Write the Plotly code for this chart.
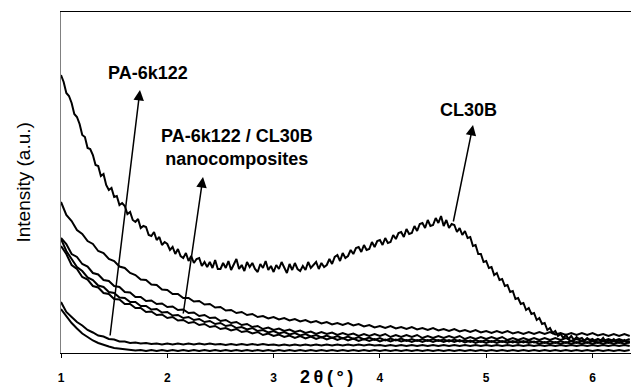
import plotly.graph_objects as go

# 2-theta positions (degrees), fine scan used for the CL30B pattern
theta_cl = [1.000, 1.025, 1.050, 1.075, 1.100, 1.125, 1.150, 1.175, 1.200, 1.225,
            1.250, 1.275, 1.300, 1.325, 1.350, 1.375, 1.400, 1.425, 1.450, 1.475,
            1.500, 1.525, 1.550, 1.575, 1.600, 1.625, 1.650, 1.675, 1.700, 1.725,
            1.750, 1.775, 1.800, 1.825, 1.850, 1.875, 1.900, 1.925, 1.950, 1.975,
            2.000, 2.025, 2.050, 2.075, 2.100, 2.125, 2.150, 2.175, 2.200, 2.225,
            2.250, 2.275, 2.300, 2.325, 2.350, 2.375, 2.400, 2.425, 2.450, 2.475,
            2.500, 2.525, 2.550, 2.575, 2.600, 2.625, 2.650, 2.675, 2.700, 2.725,
            2.750, 2.775, 2.800, 2.825, 2.850, 2.875, 2.900, 2.925, 2.950, 2.975,
            3.000, 3.025, 3.050, 3.075, 3.100, 3.125, 3.150, 3.175, 3.200, 3.225,
            3.250, 3.275, 3.300, 3.325, 3.350, 3.375, 3.400, 3.425, 3.450, 3.475,
            3.500, 3.525, 3.550, 3.575, 3.600, 3.625, 3.650, 3.675, 3.700, 3.725,
            3.750, 3.775, 3.800, 3.825, 3.850, 3.875, 3.900, 3.925, 3.950, 3.975,
            4.000, 4.025, 4.050, 4.075, 4.100, 4.125, 4.150, 4.175, 4.200, 4.225,
            4.250, 4.275, 4.300, 4.325, 4.350, 4.375, 4.400, 4.425, 4.450, 4.475,
            4.500, 4.525, 4.550, 4.575, 4.600, 4.625, 4.650, 4.675, 4.700, 4.725,
            4.750, 4.775, 4.800, 4.825, 4.850, 4.875, 4.900, 4.925, 4.950, 4.975,
            5.000, 5.025, 5.050, 5.075, 5.100, 5.125, 5.150, 5.175, 5.200, 5.225,
            5.250, 5.275, 5.300, 5.325, 5.350, 5.375, 5.400, 5.425, 5.450, 5.475,
            5.500, 5.525, 5.550, 5.575, 5.600, 5.625, 5.650, 5.675, 5.700, 5.725,
            5.750, 5.775, 5.800, 5.825, 5.850, 5.875, 5.900, 5.925, 5.950, 5.975,
            6.000, 6.025, 6.050, 6.075, 6.100, 6.125, 6.150, 6.175, 6.200, 6.225,
            6.250, 6.275, 6.300, 6.325, 6.350]

# 2-theta positions (degrees) for the PA-6k122 and nanocomposite patterns
theta = [1.00, 1.05, 1.10, 1.15, 1.20, 1.25, 1.30, 1.35, 1.40, 1.45,
         1.50, 1.55, 1.60, 1.65, 1.70, 1.75, 1.80, 1.85, 1.90, 1.95,
         2.00, 2.05, 2.10, 2.15, 2.20, 2.25, 2.30, 2.35, 2.40, 2.45,
         2.50, 2.55, 2.60, 2.65, 2.70, 2.75, 2.80, 2.85, 2.90, 2.95,
         3.00, 3.05, 3.10, 3.15, 3.20, 3.25, 3.30, 3.35, 3.40, 3.45,
         3.50, 3.55, 3.60, 3.65, 3.70, 3.75, 3.80, 3.85, 3.90, 3.95,
         4.00, 4.05, 4.10, 4.15, 4.20, 4.25, 4.30, 4.35, 4.40, 4.45,
         4.50, 4.55, 4.60, 4.65, 4.70, 4.75, 4.80, 4.85, 4.90, 4.95,
         5.00, 5.05, 5.10, 5.15, 5.20, 5.25, 5.30, 5.35, 5.40, 5.45,
         5.50, 5.55, 5.60, 5.65, 5.70, 5.75, 5.80, 5.85, 5.90, 5.95,
         6.00, 6.05, 6.10, 6.15, 6.20, 6.25, 6.30, 6.35]

# Intensity (a.u.)
cl30b = [278, 271, 260, 257, 250, 239, 236, 229, 218, 216, 205, 204,
         198, 188, 187, 177, 179, 168, 163, 165, 156, 157, 148, 150,
         147, 139, 141, 133, 131, 134, 125, 127, 126, 118, 117, 121,
         113, 116, 108, 111, 109, 103, 106, 99, 104, 97, 95, 100,
         92, 97, 90, 94, 95, 87, 91, 86, 91, 85, 93, 84,
         84, 90, 85, 92, 83, 89, 94, 84, 88, 82, 91, 86,
         90, 84, 81, 89, 85, 92, 83, 87, 81, 88, 84, 91,
         86, 80, 89, 83, 90, 84, 82, 87, 83, 91, 85, 88,
         91, 84, 90, 86, 88, 94, 89, 96, 98, 92, 100, 95,
         97, 103, 99, 105, 106, 101, 108, 103, 104, 111, 106, 112,
         113, 108, 115, 110, 111, 118, 114, 120, 121, 116, 124, 119,
         120, 127, 122, 129, 130, 125, 133, 127, 128, 135, 130, 137,
         127, 133, 125, 129, 128, 121, 125, 118, 122, 115, 116, 107,
         108, 99, 99, 91, 92, 85, 86, 78, 80, 73, 74, 67,
         68, 61, 62, 54, 55, 49, 50, 43, 45, 39, 40, 33,
         35, 29, 30, 23, 25, 20, 22, 17, 19, 15, 18, 14,
         17, 13, 16, 14, 15, 12, 15, 13, 14, 11, 14, 12,
         15, 11, 13, 12, 14, 11, 13, 11, 13, 11, 12]

nano_a = [151, 138, 132, 123, 119, 112, 109, 102, 100, 94,
          92, 86.5, 85, 80, 78, 73.5, 73, 68.5, 68, 63.5,
          63, 59, 59, 55, 55, 51.5, 52, 48.5, 49, 45.5,
          46, 42.5, 43, 40, 41, 38, 39, 36, 37, 34.5,
          36, 33.5, 35, 32.5, 34, 31.5, 33, 30.5, 32, 29.5,
          31, 28.5, 30, 28, 30, 27.5, 29, 26.5, 28, 25.5,
          27, 25, 27, 24.5, 26, 24, 26, 23.5, 25, 23,
          25, 22.5, 24, 22, 24, 21.5, 23, 21, 23, 20.5,
          22, 20, 22, 20, 22, 19.5, 21, 19, 21, 19,
          21, 19, 21, 18.5, 20, 18, 20, 18, 20, 18,
          20, 17.5, 19, 17, 19, 17, 19, 17]

nano_b = [115, 109, 99, 96, 89, 86.5, 80, 78.5, 73, 72,
          67, 66, 61, 60.5, 56, 56, 52, 52.5, 49, 49.5,
          46, 46.5, 43, 43.5, 40, 40.5, 37, 38, 35, 35.5,
          32, 33, 30, 31, 28, 29, 26, 27, 24, 25.5,
          23, 24.5, 22, 23.5, 21, 22.5, 20, 21.5, 19, 21,
          19, 20.5, 18, 20, 18, 19.5, 17, 19, 17, 19,
          17, 19, 16, 18, 16, 18, 16, 18, 15, 17,
          15, 17, 15, 17, 15, 17, 14, 16, 14, 16,
          14, 16, 14, 16, 13, 15, 13, 15, 13, 15,
          13, 15, 13, 15, 13, 15, 12, 14, 12, 14,
          12, 14, 12, 14, 12, 14, 12, 14]

nano_c = [114, 102, 94, 86, 82, 75.5, 73, 67.5, 66, 61,
          60, 55.5, 55, 51, 51, 47, 47, 43.5, 44, 40.5,
          41, 37.5, 38, 35, 36, 33, 34, 31, 32, 29,
          30, 27, 28, 25, 26, 23.5, 25, 22, 23, 20.5,
          22, 19.5, 21, 18.5, 20, 17.5, 19, 16.5, 18, 15.5,
          17.5, 15, 17, 14.5, 16.5, 14, 16, 13.5, 15.5, 13,
          15, 12.5, 14.5, 12.5, 14.5, 12, 14, 12, 14, 12,
          14, 12, 13.5, 11.5, 13.5, 11.5, 13, 11, 13, 11,
          13, 11, 13, 11, 12.5, 10.5, 12.5, 10.5, 12.5, 10.5,
          12, 10, 12, 10, 12, 10, 12, 10, 12, 10,
          12, 10, 12, 10, 12, 10, 12, 10]

nano_d = [107, 99, 88, 84, 76, 73.5, 67, 65.5, 60, 59,
          54, 53.5, 49, 49, 45, 45, 41, 41.5, 38, 38.5,
          35, 36, 32.5, 33, 30, 31, 28, 29, 26, 27,
          24, 25, 22.5, 24, 21, 22, 19.5, 21, 18, 19.5,
          17, 18.5, 16, 17.5, 15, 17, 14.5, 16.5, 14, 16,
          13.5, 15.5, 13, 15, 12.5, 14.5, 12, 14, 12, 14,
          11.5, 13.5, 11.5, 13.5, 11.5, 13, 11, 13, 11, 13,
          11, 13, 11, 13, 11, 13, 10.5, 12.5, 10, 12,
          10, 12, 10, 12, 10, 12, 10, 12, 10, 11.5,
          9, 11, 9, 11, 9, 11, 9, 11, 9, 11,
          9, 11, 9, 11, 9, 11, 9, 11]

nano_e = [51, 41, 36, 31, 27.5, 23, 20.5, 17.5, 16.5, 14,
          13.5, 11.5, 11.5, 10, 10.5, 9.5, 10, 9, 9.5, 8.5,
          9.5, 8.5, 9.5, 8.5, 9.5, 8.5, 9.5, 8.5, 9.5, 8.5,
          9, 8, 9, 8, 9, 8, 9, 8, 9, 8,
          8.5, 7.5, 8.5, 7.5, 8.5, 7.5, 8.5, 7.5, 8.5, 7.5,
          8.5, 7.5, 8.5, 7.5, 8.5, 7.5, 8.5, 7.5, 8.5, 7.5,
          8, 7, 8, 7, 8, 7, 8, 7, 8, 7,
          8, 7, 8, 7, 8, 7, 8, 7, 8, 7,
          8, 7, 8, 7, 8, 7, 8, 7, 8, 7,
          8, 7, 8, 7, 8, 7, 8, 7, 8, 7,
          8, 7, 8, 7, 8, 7, 8, 7]

pa6 = [44, 37, 30, 24.5, 19.5, 16, 12.5, 10, 8, 6.5,
       5, 4.5, 3.5, 3.5, 2.5, 3, 2, 3, 2, 3,
       2, 3, 2, 3, 2, 3, 2, 3, 2, 3,
       2, 3, 2, 3, 2, 3, 2, 3, 2, 3,
       2, 3, 2, 3, 2, 3, 2, 3, 2, 3,
       2, 3, 2, 3, 2, 3, 2, 3, 2, 3,
       2, 3, 2, 3, 2, 3, 2, 3, 2, 3,
       2, 3, 2, 3, 2, 3, 2, 3, 2, 3,
       2, 3, 2, 3, 2, 3, 2, 3, 2, 3,
       2, 3, 2, 3, 2, 3, 2, 3, 2, 3,
       2, 3, 2, 3, 2, 3, 2, 3]

x_ticks = [1, 2, 3, 4, 5, 6]

fig = go.Figure()
for ys in [nano_a, nano_b, nano_c, nano_d, nano_e, pa6]:
    fig.add_trace(go.Scatter(x=theta, y=ys, mode="lines",
                             line=dict(color="black", width=2),
                             showlegend=False, hoverinfo="skip"))
fig.add_trace(go.Scatter(x=theta_cl, y=cl30b, mode="lines",
                         line=dict(color="black", width=2),
                         showlegend=False, hoverinfo="skip"))

FONT = "Liberation Sans, Arial, sans-serif"
label_font = dict(family=FONT, size=18, color="black", weight="bold")
arrow_style = dict(xref="x", yref="y", axref="x", ayref="y", text="",
                   showarrow=True, arrowhead=2, arrowsize=1.4, arrowwidth=1.5,
                   arrowcolor="black", standoff=0, startstandoff=0)

annotations = [
    # arrows (head near label, tail on curve)
    dict(x=1.743, y=263, ax=1.46, ay=16, **arrow_style),
    dict(x=2.336, y=176, ax=2.148, ay=38, **arrow_style),
    dict(x=4.876, y=228, ax=4.688, ay=130, **arrow_style),
    # labels
    dict(x=1.819, y=280, xref="x", yref="y", text="PA-6k122", showarrow=False,
         font=label_font, xanchor="center", yanchor="middle"),
    dict(x=2.655, y=206, xref="x", yref="y",
         text="PA-6k122 / CL30B<br>nanocomposites", showarrow=False,
         font=label_font, xanchor="center", yanchor="middle", align="center"),
    dict(x=4.829, y=243, xref="x", yref="y", text="CL30B", showarrow=False,
         font=label_font, xanchor="center", yanchor="middle"),
    # axis titles
    dict(x=3.493, y=-24 / 341, xref="x", yref="paper",
         text="2\u2009θ\u2009(\u2009°\u2009)",
         showarrow=False, xanchor="center", yanchor="middle",
         font=dict(family=FONT, size=18, color="black", weight="bold")),
    dict(x=-38 / 570, y=0.5, xref="paper", yref="paper", text="Intensity (a.u.)",
         showarrow=False, textangle=-90, xanchor="center", yanchor="middle",
         font=dict(family=FONT, size=19, color="black")),
]

fig.update_layout(
    width=631, height=389,
    margin=dict(l=61, r=0, t=12, b=36),
    paper_bgcolor="white", plot_bgcolor="white",
    annotations=annotations,
    xaxis=dict(range=[1, 6.362], tickvals=x_ticks, ticktext=[str(v) for v in x_ticks],
               showgrid=False, zeroline=False, showline=True, linecolor="black",
               linewidth=1, mirror=True, ticks="outside", ticklen=4, tickcolor="black",
               ticklabelstandoff=10,
               tickfont=dict(family=FONT, size=12, color="black", weight="bold")),
    yaxis=dict(range=[0, 341], showticklabels=False, showgrid=False, zeroline=False,
               showline=True, linecolor="#808080", linewidth=1, ticks=""),
)

fig.write_html("out.html")
